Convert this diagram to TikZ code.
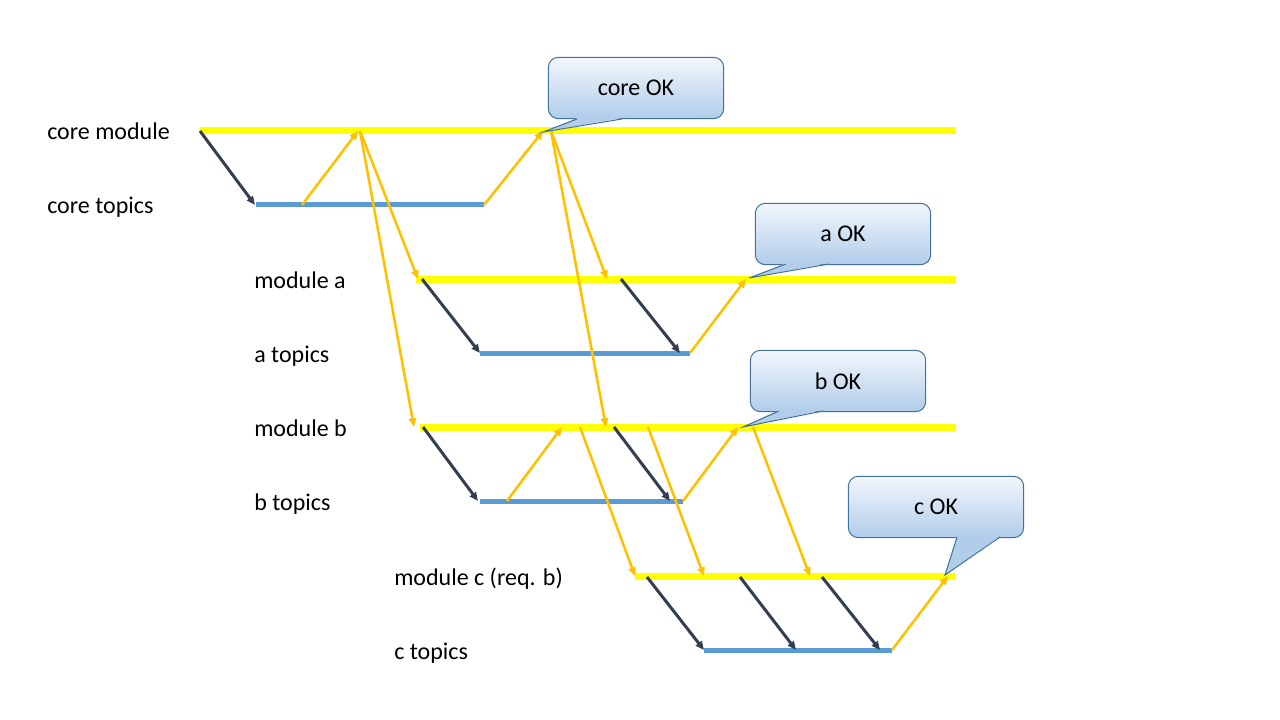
\documentclass[tikz,border=0pt]{standalone}
\usepackage{fontspec}
\setmainfont{Carlito}
\usetikzlibrary{arrows.meta}
\definecolor{ylw}{HTML}{FFFF00}
\definecolor{blu}{HTML}{5B9BD5}
\definecolor{org}{HTML}{FFC000}
\definecolor{drk}{HTML}{333F50}
\definecolor{ctop}{HTML}{F2F6FC}
\definecolor{cbot}{HTML}{B1CDEA}
\definecolor{cbrd}{HTML}{41719C}
\begin{document}
\begin{tikzpicture}[x=0.75pt,y=-0.75pt,
  font=\fontsize{18}{22}\selectfont,
  modline/.style={draw=ylw,line width=5.25pt},
  topline/.style={draw=blu,line width=3.75pt},
  oarr/.style={draw=org,line width=1.9pt,-{Triangle[length=6.5pt,width=5.5pt]}},
  darr/.style={draw=drk,line width=2.25pt,-{Triangle[length=6.5pt,width=5.5pt]}},
  lbl/.style={anchor=base west,inner sep=0pt},
  callbox/.style={draw=cbrd,line width=0.75pt,rounded corners=7.5pt,top color=ctop,bottom color=cbot,minimum width=131.5pt,minimum height=46pt,inner sep=0pt},
  wedgefill/.style={fill=cbot},
  wedgeline/.style={draw=cbrd,line width=0.75pt,line join=miter},
  ]
\useasboundingbox (0,0) rectangle (1280,720);

% line end points
\coordinate (cmL) at (200,131); \coordinate (cmR) at (956,131);
\coordinate (ctL) at (256,205); \coordinate (ctR) at (484,205);
\coordinate (maL) at (416,279); \coordinate (maR) at (956,279);
\coordinate (atL) at (480,353); \coordinate (atR) at (690,353);
\coordinate (mbL) at (420,427); \coordinate (mbR) at (956,427);
\coordinate (btL) at (480,501); \coordinate (btR) at (683,501);
\coordinate (mcL) at (635,576); \coordinate (mcR) at (955,576);
\coordinate (ctcL) at (704,650); \coordinate (ctcR) at (892,650);

% labels
\node[lbl] (lcm) at (47,140) {core module};
\node[lbl] (lct) at (47,214) {core topics};
\node[lbl] (lma) at (254,288) {module a};
\node[lbl] (lat) at (254,362) {a topics};
\node[lbl] (lmb) at (254,436) {module b};
\node[lbl] (lbt) at (254,510) {b topics};
\node[lbl] (lmc) at (394,585) {module c (req. b)};
\node[lbl] (lct2) at (394,659) {c topics};

% lines
\draw[modline] (cmL) -- (cmR);
\draw[topline] (ctL) -- (ctR);
\draw[modline] (maL) -- (maR);
\draw[topline] (atL) -- (atR);
\draw[modline] (mbL) -- (mbR);
\draw[topline] (btL) -- (btR);
\draw[modline] (mcL) -- (mcR);
\draw[topline] (ctcL) -- (ctcR);

% arrow points
\coordinate (p1) at (200,131); \coordinate (p1e) at (255,205);
\coordinate (p2) at (302,205); \coordinate (p2e) at (358,131);
\coordinate (p3) at (360,131); \coordinate (p3e) at (418,279);
\coordinate (p3f) at (414,427);
\coordinate (p4) at (484,205); \coordinate (p4e) at (543,131);
\coordinate (p5) at (551,131); \coordinate (p5e) at (607,279);
\coordinate (p5f) at (606,427);
\coordinate (q1) at (422,279); \coordinate (q1e) at (480,353);
\coordinate (q2) at (621,279); \coordinate (q2e) at (680,353);
\coordinate (q3) at (690,353); \coordinate (q3e) at (746,279);
\coordinate (r1) at (423,427); \coordinate (r1e) at (478,501);
\coordinate (r2) at (507,501); \coordinate (r2e) at (562,427);
\coordinate (r3) at (580,427); \coordinate (r3e) at (635,576);
\coordinate (r4) at (614,427); \coordinate (r4e) at (670,501);
\coordinate (r5) at (648,427); \coordinate (r5e) at (704,576);
\coordinate (r6) at (683,501); \coordinate (r6e) at (738,427);
\coordinate (r7) at (753,427); \coordinate (r7e) at (810,576);
\coordinate (s1) at (647,577); \coordinate (s1e) at (704,650);
\coordinate (s2) at (740,577); \coordinate (s2e) at (796,650);
\coordinate (s3) at (822,577); \coordinate (s3e) at (880,650);
\coordinate (s4) at (892,650); \coordinate (s4e) at (948,576);

% arrows
\draw[darr] (p1) -- (p1e);
\draw[oarr] (p2) -- (p2e);
\draw[oarr] (p3) -- (p3e);
\draw[oarr] (p3) -- (p3f);
\draw[oarr] (p4) -- (p4e);
\draw[oarr] (p5) -- (p5e);
\draw[oarr] (p5) -- (p5f);
\draw[darr] (q1) -- (q1e);
\draw[darr] (q2) -- (q2e);
\draw[oarr] (q3) -- (q3e);
\draw[darr] (r1) -- (r1e);
\draw[oarr] (r2) -- (r2e);
\draw[oarr] (r3) -- (r3e);
\draw[darr] (r4) -- (r4e);
\draw[oarr] (r5) -- (r5e);
\draw[oarr] (r6) -- (r6e);
\draw[oarr] (r7) -- (r7e);
\draw[darr] (s1) -- (s1e);
\draw[darr] (s2) -- (s2e);
\draw[darr] (s3) -- (s3e);
\draw[oarr] (s4) -- (s4e);

% callouts
\node[callbox] (coreok) at (636,88) {core OK};
\coordinate (coreA) at (577,118); \coordinate (coreT) at (543,132); \coordinate (coreB) at (622,118);
\fill[wedgefill] (coreA) -- (coreT) -- (coreB) -- cycle;
\draw[wedgeline] ([yshift=-0.75pt]coreA) -- (coreT) -- ([yshift=-0.75pt]coreB);

\node[callbox] (aok) at (843,234) {a OK};
\coordinate (aA) at (786,263); \coordinate (aT) at (749,278); \coordinate (aB) at (829,263);
\fill[wedgefill] (aA) -- (aT) -- (aB) -- cycle;
\draw[wedgeline] ([yshift=-0.75pt]aA) -- (aT) -- ([yshift=-0.75pt]aB);

\node[callbox] (bok) at (838,381) {b OK};
\coordinate (bA) at (779,410); \coordinate (bT) at (743,427); \coordinate (bB) at (823,410);
\fill[wedgefill] (bA) -- (bT) -- (bB) -- cycle;
\draw[wedgeline] ([yshift=-0.75pt]bA) -- (bT) -- ([yshift=-0.75pt]bB);

\node[callbox] (cok) at (936,507) {c OK};
\coordinate (cA) at (957,536); \coordinate (cT) at (945,575); \coordinate (cB) at (1000,536);
\fill[wedgefill] (cA) -- (cT) -- (cB) -- cycle;
\draw[wedgeline] ([yshift=-0.75pt]cA) -- (cT) -- ([yshift=-0.75pt]cB);
\end{tikzpicture}
\end{document}
